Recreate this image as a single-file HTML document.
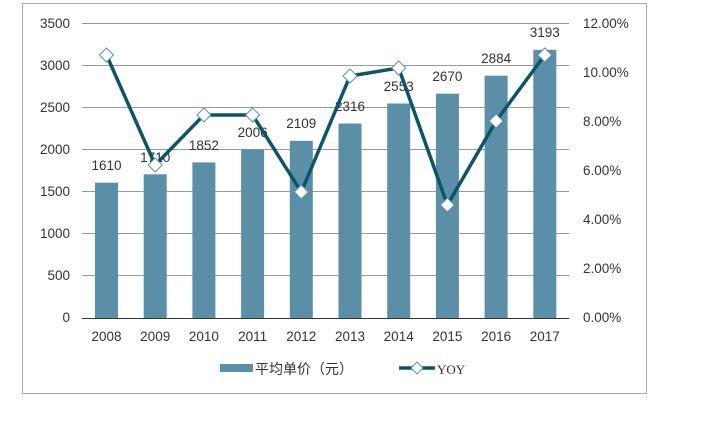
<!DOCTYPE html><html><head><meta charset="utf-8"><style>body{margin:0;background:#fff}svg{display:block}text{font-family:"Liberation Sans","Noto Sans CJK SC",sans-serif;fill:#333;font-size:13.5px}</style></head><body>
<svg width="709" height="429" xmlns="http://www.w3.org/2000/svg">
<rect x="22.5" y="3.5" width="624" height="390" fill="#fff" stroke="#aaa"/>
<g stroke="#999" stroke-width="1">
<line x1="82" x2="569" y1="23.5" y2="23.5"/><line x1="82" x2="569" y1="65.5" y2="65.5"/><line x1="82" x2="569" y1="107.5" y2="107.5"/><line x1="82" x2="569" y1="149.5" y2="149.5"/><line x1="82" x2="569" y1="191.5" y2="191.5"/><line x1="82" x2="569" y1="233.5" y2="233.5"/><line x1="82" x2="569" y1="275.5" y2="275.5"/>
</g>
<g text-anchor="end">
<text x="70" y="28">3500</text><text x="70" y="70">3000</text><text x="70" y="112">2500</text><text x="70" y="154">2000</text><text x="70" y="196">1500</text><text x="70" y="238">1000</text><text x="70" y="280">500</text><text x="70" y="322">0</text>
</g>
<g text-anchor="start">
<text x="583" y="28">12.00%</text><text x="583" y="77">10.00%</text><text x="583" y="126">8.00%</text><text x="583" y="175">6.00%</text><text x="583" y="224">4.00%</text><text x="583" y="273">2.00%</text><text x="583" y="322">0.00%</text>
</g>
<g fill="#5b8fa8">
<rect x="95" y="182.7" width="23" height="135.3"/><rect x="143.7" y="174.3" width="23" height="143.7"/><rect x="192.4" y="162.4" width="23" height="155.6"/><rect x="241.1" y="149.5" width="23" height="168.5"/><rect x="289.8" y="140.8" width="23" height="177.2"/><rect x="338.5" y="123.5" width="23" height="194.5"/><rect x="387.2" y="103.5" width="23" height="214.5"/><rect x="435.9" y="93.7" width="23" height="224.3"/><rect x="484.6" y="75.7" width="23" height="242.3"/><rect x="533.3" y="49.8" width="23" height="268.2"/>
</g>
<line x1="82" x2="569" y1="318.5" y2="318.5" stroke="#333"/>
<g text-anchor="middle">
<text x="106.5" y="170">1610</text><text x="155.2" y="162">1710</text><text x="203.9" y="150">1852</text><text x="252.6" y="137">2006</text><text x="301.3" y="128">2109</text><text x="350" y="111">2316</text><text x="398.7" y="91">2553</text><text x="447.4" y="81">2670</text><text x="496.1" y="63">2884</text><text x="544.8" y="37">3193</text>
</g>
<polyline fill="none" stroke="#0e5468" stroke-width="3.5" stroke-linejoin="round" points="106.5,55 155.2,165 203.9,115 252.6,115 301.3,192 350,76 398.7,68 447.4,205 496.1,121 544.8,55"/>
<g fill="#fff" stroke="#5b8fa8" stroke-width="1">
<path d="M106.5,48l7,7l-7,7l-7,-7z"/><path d="M155.2,158l7,7l-7,7l-7,-7z"/><path d="M203.9,108l7,7l-7,7l-7,-7z"/><path d="M252.6,108l7,7l-7,7l-7,-7z"/><path d="M301.3,185l7,7l-7,7l-7,-7z"/><path d="M350,69l7,7l-7,7l-7,-7z"/><path d="M398.7,61l7,7l-7,7l-7,-7z"/><path d="M447.4,198l7,7l-7,7l-7,-7z"/><path d="M496.1,114l7,7l-7,7l-7,-7z"/><path d="M544.8,48l7,7l-7,7l-7,-7z"/>
</g>
<g text-anchor="middle">
<text x="106.5" y="341">2008</text><text x="155.2" y="341">2009</text><text x="203.9" y="341">2010</text><text x="252.6" y="341">2011</text><text x="301.3" y="341">2012</text><text x="350" y="341">2013</text><text x="398.7" y="341">2014</text><text x="447.4" y="341">2015</text><text x="496.1" y="341">2016</text><text x="544.8" y="341">2017</text>
</g>
<rect x="220" y="364" width="33" height="8" fill="#5b8fa8"/>
<text x="255" y="374" style="font-size:14px">平均单价（元）</text>
<line x1="399" x2="435" y1="368" y2="368" stroke="#0e5468" stroke-width="3.5"/>
<path d="M417,362l6,6l-6,6l-6,-6z" fill="#fff" stroke="#5b8fa8"/>
<text x="437" y="374" style="font-size:13px;font-family:'Liberation Serif',serif">YOY</text>
</svg></body></html>
